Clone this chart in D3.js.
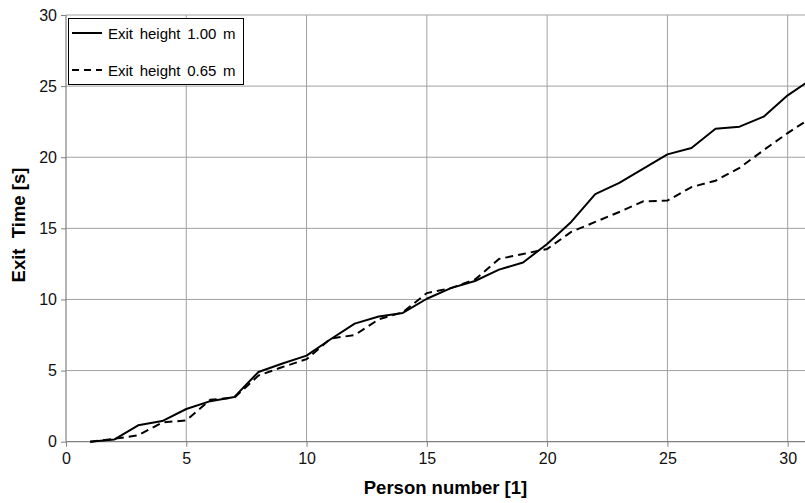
<!DOCTYPE html>
<html><head><meta charset="utf-8">
<script src="https://cdn.jsdelivr.net/npm/d3@7"></script>
<style>
body{margin:0;background:#fff;}
svg{display:block;font-family:Arial,"Liberation Sans",sans-serif;}
</style></head>
<body><svg id="c" width="805" height="503"></svg>
<script>
const persons = d3.range(1, 32);
const exit100 = [0, 0.15, 1.15, 1.45, 2.3, 2.85, 3.15, 4.9, 5.5, 6.05, 7.2, 8.3, 8.8, 9.05, 10.05, 10.8, 11.3, 12.1, 12.6, 13.9, 15.45, 17.4, 18.2, 19.2, 20.2, 20.65, 22.0, 22.15, 22.85, 24.35, 25.5];
const exit065 = [0, 0.2, 0.45, 1.35, 1.5, 2.95, 3.1, 4.65, 5.25, 5.8, 7.25, 7.5, 8.6, 9.1, 10.45, 10.8, 11.4, 12.85, 13.2, 13.55, 14.75, 15.45, 16.15, 16.9, 16.95, 17.9, 18.35, 19.25, 20.5, 21.7, 22.8];
const xTicks = [0, 5, 10, 15, 20, 25, 30];
const yTicks = [0, 5, 10, 15, 20, 25, 30];
const seriesNames = ["Exit height 1.00 m", "Exit height 0.65 m"];

const svg = d3.select("#c");
const L = 66, R = 805, T = 15, B = 441.7;
const x = d3.scaleLinear().domain([0, 30.72]).range([L, R]);
const y = d3.scaleLinear().domain([0, 30]).range([B, T]);

svg.append("defs").append("clipPath").attr("id", "clip")
  .append("rect").attr("x", L).attr("y", T - 2).attr("width", R - L).attr("height", B - T + 4);

// grid
const g = svg.append("g");
g.selectAll(".vg").data(xTicks.filter(d => d > 0)).join("line")
  .attr("x1", d => x(d)).attr("x2", d => x(d)).attr("y1", T).attr("y2", B)
  .attr("stroke", "#a0a0a0").attr("stroke-width", 1);
g.selectAll(".hg").data(yTicks.filter(d => d > 0)).join("line")
  .attr("x1", L).attr("x2", R).attr("y1", d => y(d)).attr("y2", d => y(d))
  .attr("stroke", "#a0a0a0").attr("stroke-width", 1);

// axes
const xAxis = d3.axisBottom(x).tickValues(xTicks).tickSize(5).tickPadding(6).tickFormat(d3.format("d"));
const yAxis = d3.axisLeft(y).tickValues(yTicks).tickSize(5).tickPadding(4).tickFormat(d3.format("d"));
const gx = svg.append("g").attr("transform", `translate(0,${B})`).call(xAxis);
const gy = svg.append("g").attr("transform", `translate(${L},0)`).call(yAxis);
[gx, gy].forEach(a => {
  a.select(".domain").attr("stroke", "#808080").attr("stroke-width", 1.2);
  a.selectAll(".tick line").attr("stroke", "#808080");
  a.selectAll(".tick text").attr("font-size", 16).attr("fill", "#111").attr("font-family", "Arial, 'Liberation Sans', sans-serif");
});
gx.select(".domain").attr("d", `M${L},0H${R}`);
gy.select(".domain").attr("d", `M0,${B}V${T}`);

// lines
const line = d3.line().x((d, i) => x(persons[i])).y(d => y(d));
const plot = svg.append("g").attr("clip-path", "url(#clip)");
plot.append("path").datum(exit100).attr("d", line)
  .attr("fill", "none").attr("stroke", "#000").attr("stroke-width", 2).attr("stroke-linejoin", "round");
plot.append("path").datum(exit065).attr("d", line)
  .attr("fill", "none").attr("stroke", "#000").attr("stroke-width", 2).attr("stroke-dasharray", "8,5");

// legend
const lg = svg.append("g");
lg.append("rect").attr("x", 68.5).attr("y", 18.5).attr("width", 175).attr("height", 66)
  .attr("fill", "#fff").attr("stroke", "#000").attr("stroke-width", 1);
const ly = [33, 70];
seriesNames.forEach((n, i) => {
  lg.append("line").attr("x1", 72).attr("x2", 102).attr("y1", ly[i]).attr("y2", ly[i])
    .attr("stroke", "#000").attr("stroke-width", 2)
    .attr("stroke-dasharray", i === 1 ? "7,5" : null);
  lg.append("text").attr("x", 108).attr("y", ly[i] + 6).attr("font-size", 15)
    .attr("word-spacing", 2.5).attr("fill", "#000").text(n);
});

// axis titles
svg.append("text").attr("x", 445.5).attr("y", 494).attr("text-anchor", "middle")
  .attr("font-size", 18.5).attr("font-weight", "bold").text("Person number [1]");
svg.append("text").attr("transform", "translate(25,225) rotate(-90)").attr("text-anchor", "middle")
  .attr("font-size", 18.5).attr("font-weight", "bold")
  .attr("xml:space", "preserve").style("white-space", "pre").text("Exit  Time [s]");
</script></body></html>
